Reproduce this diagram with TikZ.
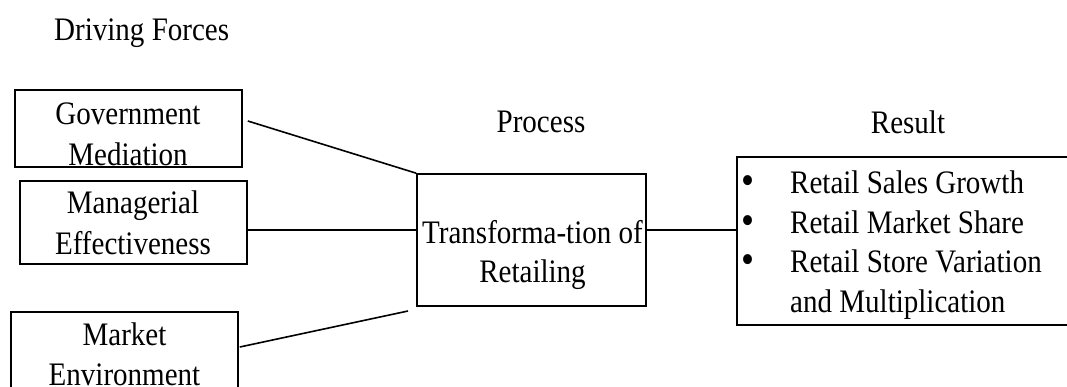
\documentclass[tikz,border=0pt]{standalone}
\usepackage{fontspec}
\setmainfont{Liberation Serif}[FakeStretch=0.885]
\begin{document}
\begin{tikzpicture}[x=1pt,y=-1pt,
  every node/.style={font=\fontsize{32.8}{40}\selectfont, inner sep=0pt},
  box/.style={draw, line width=1.6pt, rectangle, minimum width=#1},
  txt/.style={anchor=base},
  dot/.style={anchor=base, font=\fontsize{42}{40}\selectfont, text height=16pt, text depth=0pt},
  link/.style={line width=1.6pt}]
\useasboundingbox (0,0) rectangle (1067,386);
\clip (0,0) rectangle (1067,386);

% headings
\node[txt, anchor=base west] (hdrive) at (54,40) {Driving Forces};
\node[txt] (hproc) at (541,132) {Process};
\node[txt] (hres) at (908,133) {Result};

% driving force boxes
\node[box=227pt, minimum height=77pt] (gov) at (128.5,128.5) {};
\node[txt] (gov1) at (128,124) {Government};
\node[txt] (gov2) at (128,165) {Mediation};

\node[box=227pt, minimum height=83pt] (mgr) at (133.5,222.5) {};
\node[txt] (mgr1) at (133,213) {Managerial};
\node[txt] (mgr2) at (133,254) {Effectiveness};

\node[box=227pt, minimum height=80pt] (mkt) at (124.5,352) {};
\node[txt] (mkt1) at (124.5,345) {Market};
\node[txt] (mkt2) at (124.5,385) {Environment};

% process box
\node[box=229pt, minimum height=132pt] (trans) at (531.5,240) {};
\node[txt] (trans1) at (532.5,243) {Transforma-tion of};
\node[txt] (trans2) at (532.5,282) {Retailing};

% result box
\node[box=340pt, minimum height=168pt] (res) at (907,241) {};
\node[dot] (b1) at (748,194) {•};
\node[dot] (b2) at (748,234) {•};
\node[dot] (b3) at (748,273) {•};
\node[txt, anchor=base west] (r1) at (790,193) {Retail Sales Growth};
\node[txt, anchor=base west] (r2) at (790,233) {Retail Market Share};
\node[txt, anchor=base west] (r3) at (790,272) {Retail Store Variation};
\node[txt, anchor=base west] (r4) at (790,312) {and Multiplication};

% connectors
\coordinate (mktend) at (408,311);
\draw[link] ([xshift=5pt,yshift=7.5pt]gov.east) -- (trans.north west);
\draw[link] ([yshift=-7.5pt]mgr.east) -- ([yshift=-7.5pt]mgr.east -| trans.west);
\draw[link] ([xshift=1pt,yshift=5pt]mkt.east) -- (mktend);
\draw[link] ([yshift=10pt]trans.east) -- ([yshift=10pt]trans.east -| res.west);
\end{tikzpicture}
\end{document}
